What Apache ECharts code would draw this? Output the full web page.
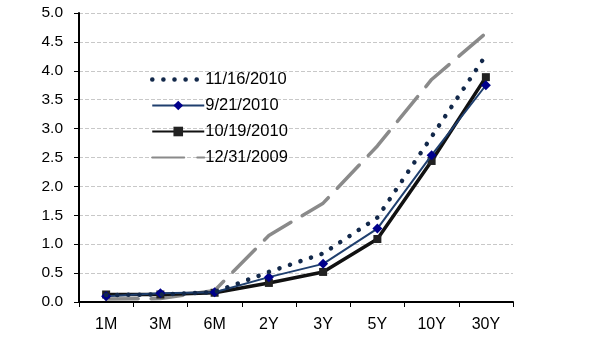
<!DOCTYPE html>
<html><head><meta charset="utf-8">
<script src="https://cdn.jsdelivr.net/npm/echarts@6/dist/echarts.min.js"></script>
<style>html,body{margin:0;padding:0;background:#fff}#c{width:602px;height:339px}</style>
</head><body><div id="c"></div>
<script>
const categories = ['1M','3M','6M','2Y','3Y','5Y','10Y','30Y'];
const s1116 = [0.12,0.13,0.17,0.52,0.84,1.46,2.86,4.27];
const s0921 = [0.10,0.15,0.17,0.43,0.66,1.27,2.54,3.75];
const s1019 = [0.13,0.13,0.16,0.33,0.52,1.09,2.44,3.89];
const s1231 = [0.05,0.06,0.20,1.15,1.71,2.70,3.85,4.65];
const yTicks = [0,0.5,1,1.5,2,2.5,3,3.5,4,4.5,5];
const names = ['11/16/2010','9/21/2010','10/19/2010','12/31/2009'];

const chart = echarts.init(document.getElementById('c'), null, {renderer:'canvas'});
const font = 'Liberation Sans, Arial, sans-serif';
chart.setOption({
  animation:false,
  backgroundColor:'#fff',
  grid:{left:79,right:89,top:13,bottom:37},
  legend:{
    orient:'vertical', left:145, top:66, itemWidth:52, itemHeight:12, itemGap:9,
    textStyle:{fontFamily:font,fontSize:16.5,color:'#000',padding:[0,0,0,-4]},
    data:[
      {name:names[0],itemStyle:{opacity:0},lineStyle:{width:4.5,type:[0.1,11],cap:'round',color:'#12284a'}},
      {name:names[1]},
      {name:names[2]},
      {name:names[3],itemStyle:{opacity:0}}
    ]
  },
  xAxis:{
    type:'category', data:categories, boundaryGap:true,
    axisLine:{lineStyle:{color:'#000',width:2}},
    axisTick:{show:true,length:5,lineStyle:{color:'#000',width:1}},
    axisLabel:{fontFamily:font,fontSize:16,color:'#000',margin:15}
  },
  yAxis:{
    type:'value', min:0, max:5, interval:0.5,
    axisLine:{show:true,lineStyle:{color:'#000',width:2}},
    axisTick:{show:true,length:5,lineStyle:{color:'#000'}},
    axisLabel:{fontFamily:font,fontSize:15.5,color:'#000',margin:16,
      formatter:v=>yTicks.includes(v)?v.toFixed(1):''},
    splitLine:{show:true,lineStyle:{color:'#c8c8c8',type:[4,2],width:1}}
  },
  series:[
    {name:names[0],type:'line',data:s1116,symbol:'none',
     lineStyle:{color:'#12284a',width:4.5,type:[0.1,11],cap:'round'},itemStyle:{color:'#12284a'},z:4},
    {name:names[1],type:'line',data:s0921,symbol:'diamond',symbolSize:10,
     lineStyle:{color:'#1f3f6e',width:2},itemStyle:{color:'#00008b'},z:3},
    {name:names[2],type:'line',data:s1019,symbol:'rect',symbolSize:8,
     lineStyle:{color:'#111',width:3.5},itemStyle:{color:'#222'},z:2},
    {name:names[3],type:'line',data:s1231,symbol:'none',
     lineStyle:{color:'#8a8a8a',width:3.5,type:[32,13],cap:'round'},itemStyle:{color:'#8a8a8a'},z:1}
  ]
});
</script></body></html>
